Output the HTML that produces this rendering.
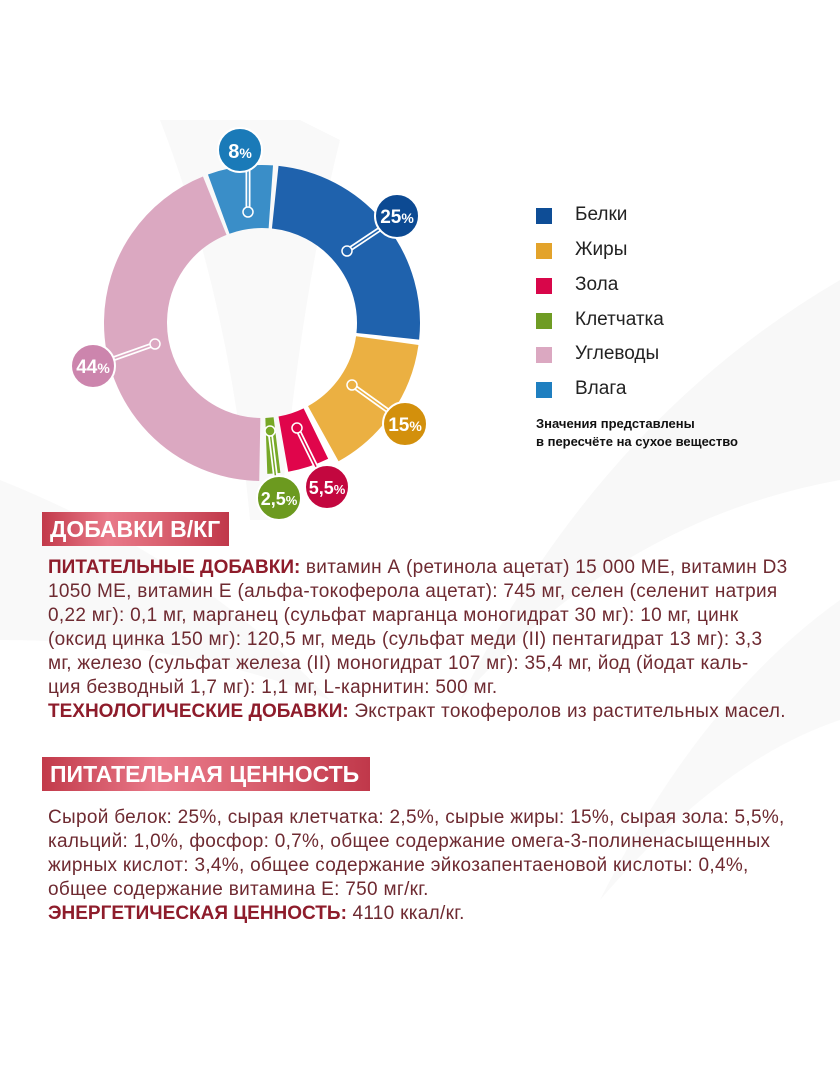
<!DOCTYPE html>
<html><head><meta charset="utf-8"><style>
html,body{margin:0;padding:0;background:#fff;}
body{width:840px;height:1080px;position:relative;overflow:hidden;font-family:"Liberation Sans",sans-serif;}
.bg{position:absolute;left:0;top:0;}
.leg{position:absolute;left:536px;font-size:19px;color:#222;}
.leg div{position:absolute;left:0;width:16px;height:16px;}
.leg span{position:absolute;left:39px;top:-4px;white-space:nowrap;}
.note{position:absolute;left:536px;top:415px;font-size:13px;font-weight:bold;color:#111;line-height:18px;}
.hdr{position:absolute;left:42px;height:34px;background:linear-gradient(90deg,#c23a4a 0%,#e97a8a 35%,#d9606f 65%,#c0384a 100%);color:#fff;font-weight:bold;font-size:23px;line-height:34px;padding-left:8px;box-sizing:border-box;white-space:nowrap;}
.txt{position:absolute;left:48px;font-size:19px;letter-spacing:0.3px;line-height:24px;color:#6e2a31;white-space:nowrap;}
.txt b{color:#8e1c2b;letter-spacing:0;}
</style></head><body>
<svg class="bg" width="840" height="1080">
<path d="M160 120 L300 120 L340 140 Q300 300 280 520 L250 520 Q230 300 160 120Z" fill="#f9f9f9"/>
<path d="M840 280 Q600 420 460 700 Q620 520 840 480Z" fill="#f8f8f8"/>
<path d="M0 480 Q200 560 330 700 Q180 640 0 640Z" fill="#f9f9f9"/>
<path d="M840 600 Q700 700 600 900 Q720 760 840 720Z" fill="#f9f9f9"/>
</svg>
<svg class="bg" width="840" height="560">
<g transform="translate(262 323)" fill="none">
<circle r="126.5" stroke="#3a8ec8" stroke-width="63" stroke-dasharray="53 800" transform="rotate(-110)"/>
<circle r="126.5" stroke="#1f62ad" stroke-width="63" stroke-dasharray="198.7 800" transform="rotate(-84)"/>
<circle r="126.5" stroke="#ebb042" stroke-width="63" stroke-dasharray="117 800" transform="rotate(8)"/>
<circle r="123" stroke="#e0054b" stroke-width="56" stroke-dasharray="34.3 800" transform="rotate(64)"/>
<circle r="123" stroke="#77a827" stroke-width="56" stroke-dasharray="10.7 800" transform="rotate(83)"/>
<circle r="126.5" stroke="#dba8c1" stroke-width="63" stroke-dasharray="346.6 800" transform="rotate(91)"/>
</g>
<g stroke-linecap="round" font-weight="bold" fill="#fff">
<g><line x1="248" y1="148" x2="248" y2="212" stroke="#fff" stroke-width="5"/><line x1="248" y1="148" x2="248" y2="212" stroke="#3a8ec8" stroke-width="1.5"/><circle cx="248" cy="212" r="5" fill="#3a8ec8" stroke="#fff" stroke-width="1.5"/><circle cx="240" cy="150" r="22" fill="#1a7ab8" stroke="#fff" stroke-width="2"/><text x="240" y="158" font-size="20" text-anchor="middle">8<tspan font-size="14">%</tspan></text></g>
<g><line x1="398" y1="217" x2="347" y2="251" stroke="#fff" stroke-width="5"/><line x1="398" y1="217" x2="347" y2="251" stroke="#1f62ad" stroke-width="1.5"/><circle cx="347" cy="251" r="5" fill="#1f62ad" stroke="#fff" stroke-width="1.5"/><circle cx="397" cy="216" r="22" fill="#0c4a93" stroke="#fff" stroke-width="2"/><text x="397" y="223" font-size="19" text-anchor="middle">25<tspan font-size="14">%</tspan></text></g>
<g><line x1="405" y1="423" x2="352" y2="385" stroke="#fff" stroke-width="5"/><line x1="405" y1="423" x2="352" y2="385" stroke="#ebb042" stroke-width="1.5"/><circle cx="352" cy="385" r="5" fill="#ebb042" stroke="#fff" stroke-width="1.5"/><circle cx="405" cy="424" r="22" fill="#d3900c" stroke="#fff" stroke-width="2"/><text x="405" y="431" font-size="19" text-anchor="middle">15<tspan font-size="14">%</tspan></text></g>
<g><line x1="326" y1="487" x2="297" y2="428" stroke="#fff" stroke-width="5"/><line x1="326" y1="487" x2="297" y2="428" stroke="#e0054b" stroke-width="1.5"/><circle cx="297" cy="428" r="5" fill="#e0054b" stroke="#fff" stroke-width="1.5"/><circle cx="327" cy="487" r="22" fill="#c3073f" stroke="#fff" stroke-width="2"/><text x="327" y="494" font-size="18" text-anchor="middle">5,5<tspan font-size="13">%</tspan></text></g>
<g><line x1="278" y1="497" x2="270" y2="431" stroke="#fff" stroke-width="5"/><line x1="278" y1="497" x2="270" y2="431" stroke="#77a827" stroke-width="1.5"/><circle cx="270" cy="431" r="5" fill="#77a827" stroke="#fff" stroke-width="1.5"/><circle cx="279" cy="498" r="22" fill="#6c9a1f" stroke="#fff" stroke-width="2"/><text x="279" y="505" font-size="18" text-anchor="middle">2,5<tspan font-size="13">%</tspan></text></g>
<g><line x1="93" y1="366" x2="155" y2="344" stroke="#fff" stroke-width="5"/><line x1="93" y1="366" x2="155" y2="344" stroke="#dba8c1" stroke-width="1.5"/><circle cx="155" cy="344" r="5" fill="#dba8c1" stroke="#fff" stroke-width="1.5"/><circle cx="93" cy="366" r="22" fill="#cc85ad" stroke="#fff" stroke-width="2"/><text x="93" y="373" font-size="19" text-anchor="middle">44<tspan font-size="14">%</tspan></text></g>
</g>
</svg>
<div class="leg" style="top:208px"><div style="background:#0e4d96"></div><span>Белки</span></div>
<div class="leg" style="top:243px"><div style="background:#e3a32b"></div><span>Жиры</span></div>
<div class="leg" style="top:278px"><div style="background:#d8064a"></div><span>Зола</span></div>
<div class="leg" style="top:313px"><div style="background:#6f9c24"></div><span>Клетчатка</span></div>
<div class="leg" style="top:347px"><div style="background:#dba8c1"></div><span>Углеводы</span></div>
<div class="leg" style="top:382px"><div style="background:#1f7fc0"></div><span>Влага</span></div>
<div class="note">Значения представлены<br>в пересчёте на сухое вещество</div>
<div class="hdr" style="top:512px;width:187px;">ДОБАВКИ В/КГ</div>
<div class="txt" style="top:556px"><b>ПИТАТЕЛЬНЫЕ ДОБАВКИ:</b> витамин А (ретинола ацетат) 15 000 МЕ, витамин D3<br>1050 МЕ, витамин Е (альфа-токоферола ацетат): 745 мг, селен (селенит натрия<br>0,22 мг): 0,1 мг, марганец (сульфат марганца моногидрат 30 мг): 10 мг, цинк<br>(оксид цинка 150 мг): 120,5 мг, медь (сульфат меди (II) пентагидрат 13 мг): 3,3<br>мг, железо (сульфат железа (II) моногидрат 107 мг): 35,4 мг, йод (йодат каль-<br>ция безводный 1,7 мг): 1,1 мг, L-карнитин: 500 мг.<br><b>ТЕХНОЛОГИЧЕСКИЕ ДОБАВКИ:</b> Экстракт токоферолов из растительных масел.</div>
<div class="hdr" style="top:757px;width:328px;">ПИТАТЕЛЬНАЯ ЦЕННОСТЬ</div>
<div class="txt" style="top:806px">Сырой белок: 25%, сырая клетчатка: 2,5%, сырые жиры: 15%, сырая зола: 5,5%,<br>кальций: 1,0%, фосфор: 0,7%, общее содержание омега-3-полиненасыщенных<br>жирных кислот: 3,4%, общее содержание эйкозапентаеновой кислоты: 0,4%,<br>общее содержание витамина Е: 750 мг/кг.<br><b>ЭНЕРГЕТИЧЕСКАЯ ЦЕННОСТЬ:</b> 4110 ккал/кг.</div>
</body></html>
